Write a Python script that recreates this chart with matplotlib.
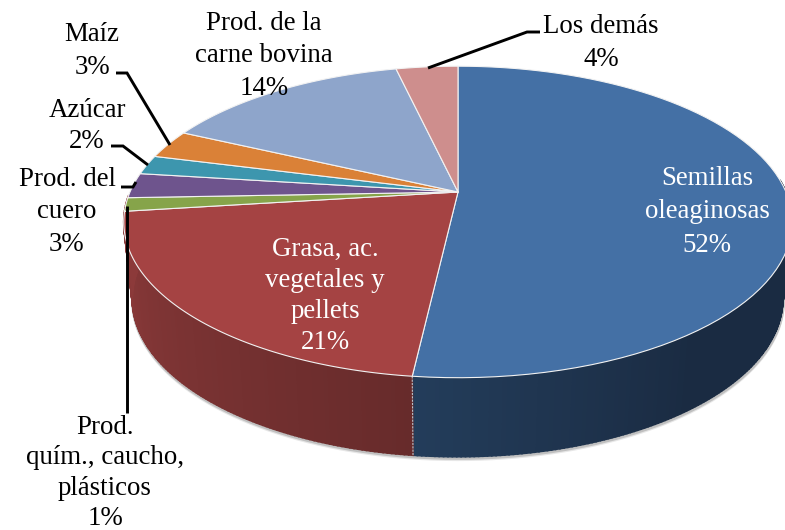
import numpy as np
import matplotlib
matplotlib.use("Agg")
import matplotlib.pyplot as plt
from matplotlib.patches import Polygon

plt.rcParams['font.family'] = ['Liberation Serif', 'DejaVu Serif']

categories = ["Semillas\noleaginosas", "Grasa, ac.\nvegetales y\npellets",
              "Prod.\nquím., caucho,\nplásticos", "Prod. del\ncuero",
              "Azúcar", "Maíz", "Prod. de la\ncarne bovina", "Los demás"]
shares = [51.8, 21.2, 1.4, 2.6, 2.0, 3.0, 14.4, 3.6]
percent_labels = [52, 21, 1, 3, 2, 3, 14, 4]

top_colors = ["#4470A5", "#A54343", "#86A44A", "#6E548D",
              "#3D96AE", "#DA8137", "#8EA5CB", "#CE8E8D"]
side_dark = ["#1A2B42", "#672B2B"]
side_light = ["#25405F", "#8C3A3A"]

# pie centre and tilt of the perspective, in pixels
cx, cy = 458.0, 192.0
sx, sy, tilt = 328.0, 150.0, 0.1923
top_center = (459.5, 222.0)
low_center = (459.0, 299.0)
low_scale = (325.0 / 334.0, 158.0 / 156.0)


def rim(theta):
    # clockwise angle from the top of the pie, radians
    x, y = np.sin(theta), np.cos(theta)
    d = 1 + tilt * y
    return cx + sx * x / d, cy - sy * y / d


def low_rim(theta):
    x, y = rim(theta)
    return (low_center[0] + (x - top_center[0]) * low_scale[0],
            low_center[1] + (y - top_center[1]) * low_scale[1])


fig = plt.figure(figsize=(7.85, 5.3), dpi=100)
ax = fig.add_axes([0, 0, 1, 1])
ax.set_xlim(0, 785)
ax.set_ylim(530, 0)
ax.axis('off')

edges = np.radians(np.concatenate([[0], np.cumsum(shares)]) * 3.6)

# soft shadow under the lower rim
t = np.linspace(np.pi * 0.5, np.pi * 1.46, 300)
lx, ly = low_rim(t)
ax.plot(lx + 0.5, ly + 1.5, color="#8a8a8a", lw=2.4, alpha=0.55, zorder=1)
ax.plot(lx + 0.5, ly + 3, color="#c4c4c4", lw=2.0, alpha=0.4, zorder=1)

# side wall, only the two big slices show from the front
wall_end = [edges[1], edges[2] + np.radians(6)]
for i in range(2):
    t0, t1 = edges[i], wall_end[i]
    t = np.linspace(t0, t1, int((t1 - t0) * 90) + 2)
    c0 = np.array(matplotlib.colors.to_rgb(side_light[i]))
    c1 = np.array(matplotlib.colors.to_rgb(side_dark[i]))
    for j in range(len(t) - 1):
        tm = 0.5 * (t[j] + t[j + 1])
        if np.cos(tm) > 0.08:
            continue
        ux, uy = rim(np.array([t[j], t[j + 1]]))
        dx, dy = low_rim(np.array([t[j], t[j + 1]]))
        # darkest towards the front of the pie
        if i == 0:
            f = np.clip((np.pi - tm + 0.25) / 0.9, 0, 1) if tm > np.pi - 0.65 else 1
        else:
            f = 1 - np.clip((tm - t0) / (edges[2] - t0), 0, 1)
        col = c0 * (1 - f) + c1 * f
        ax.add_patch(Polygon(list(zip([ux[0], ux[1], dx[1], dx[0]],
                                      [uy[0], uy[1], dy[1], dy[0]])),
                             facecolor=col, edgecolor=col, lw=1.2, zorder=2))

# seam between the two front slices
sx0, sy0 = rim(edges[1])
sx1, sy1 = low_rim(edges[1])
ax.plot([sx0, sx1], [sy0, sy1], color="#b9c0c8", lw=0.8, ls=(0, (2, 1)), zorder=3)

# top face
for i in range(len(shares)):
    t = np.linspace(edges[i], edges[i + 1], 80)
    x, y = rim(t)
    ax.add_patch(Polygon(list(zip(np.r_[cx, x], np.r_[cy, y])),
                         facecolor=top_colors[i], edgecolor="#f2f2f2",
                         lw=0.8, joinstyle='round', zorder=4))

# label boxes, x centre and y centre of the block
label_pos = [(707, 212), (325, 296), (105, 473), (67, 212),
             (87, 126), (92, 51), (264, 56), (601, 43)]
label_col = ["white", "white", "black", "black",
             "black", "black", "black", "black"]
label_space = [1.44, 1.33, 1.28, 1.38, 1.33, 1.42, 1.4, 1.4]
for name, pct, pos, col, ls in zip(categories, percent_labels, label_pos,
                                   label_col, label_space):
    ax.text(pos[0], pos[1], "%s\n%d%%" % (name, pct), ha='center', va='center',
            fontsize=19.4, color=col, linespacing=ls, zorder=6)

# leader lines
leaders = [
    ([116, 127, 170], [73, 73, 145]),
    ([111, 123, 148], [146, 146, 165]),
    ([121, 133, 136], [187, 187, 182]),
    ([127, 127], [206, 413]),
    ([540, 527, 428], [32, 32, 68]),
]
for lx, ly in leaders:
    ax.plot(lx, ly, color="black", lw=2.1, solid_joinstyle='miter',
            solid_capstyle='butt', zorder=5)

fig.savefig("out.png", dpi=100)
